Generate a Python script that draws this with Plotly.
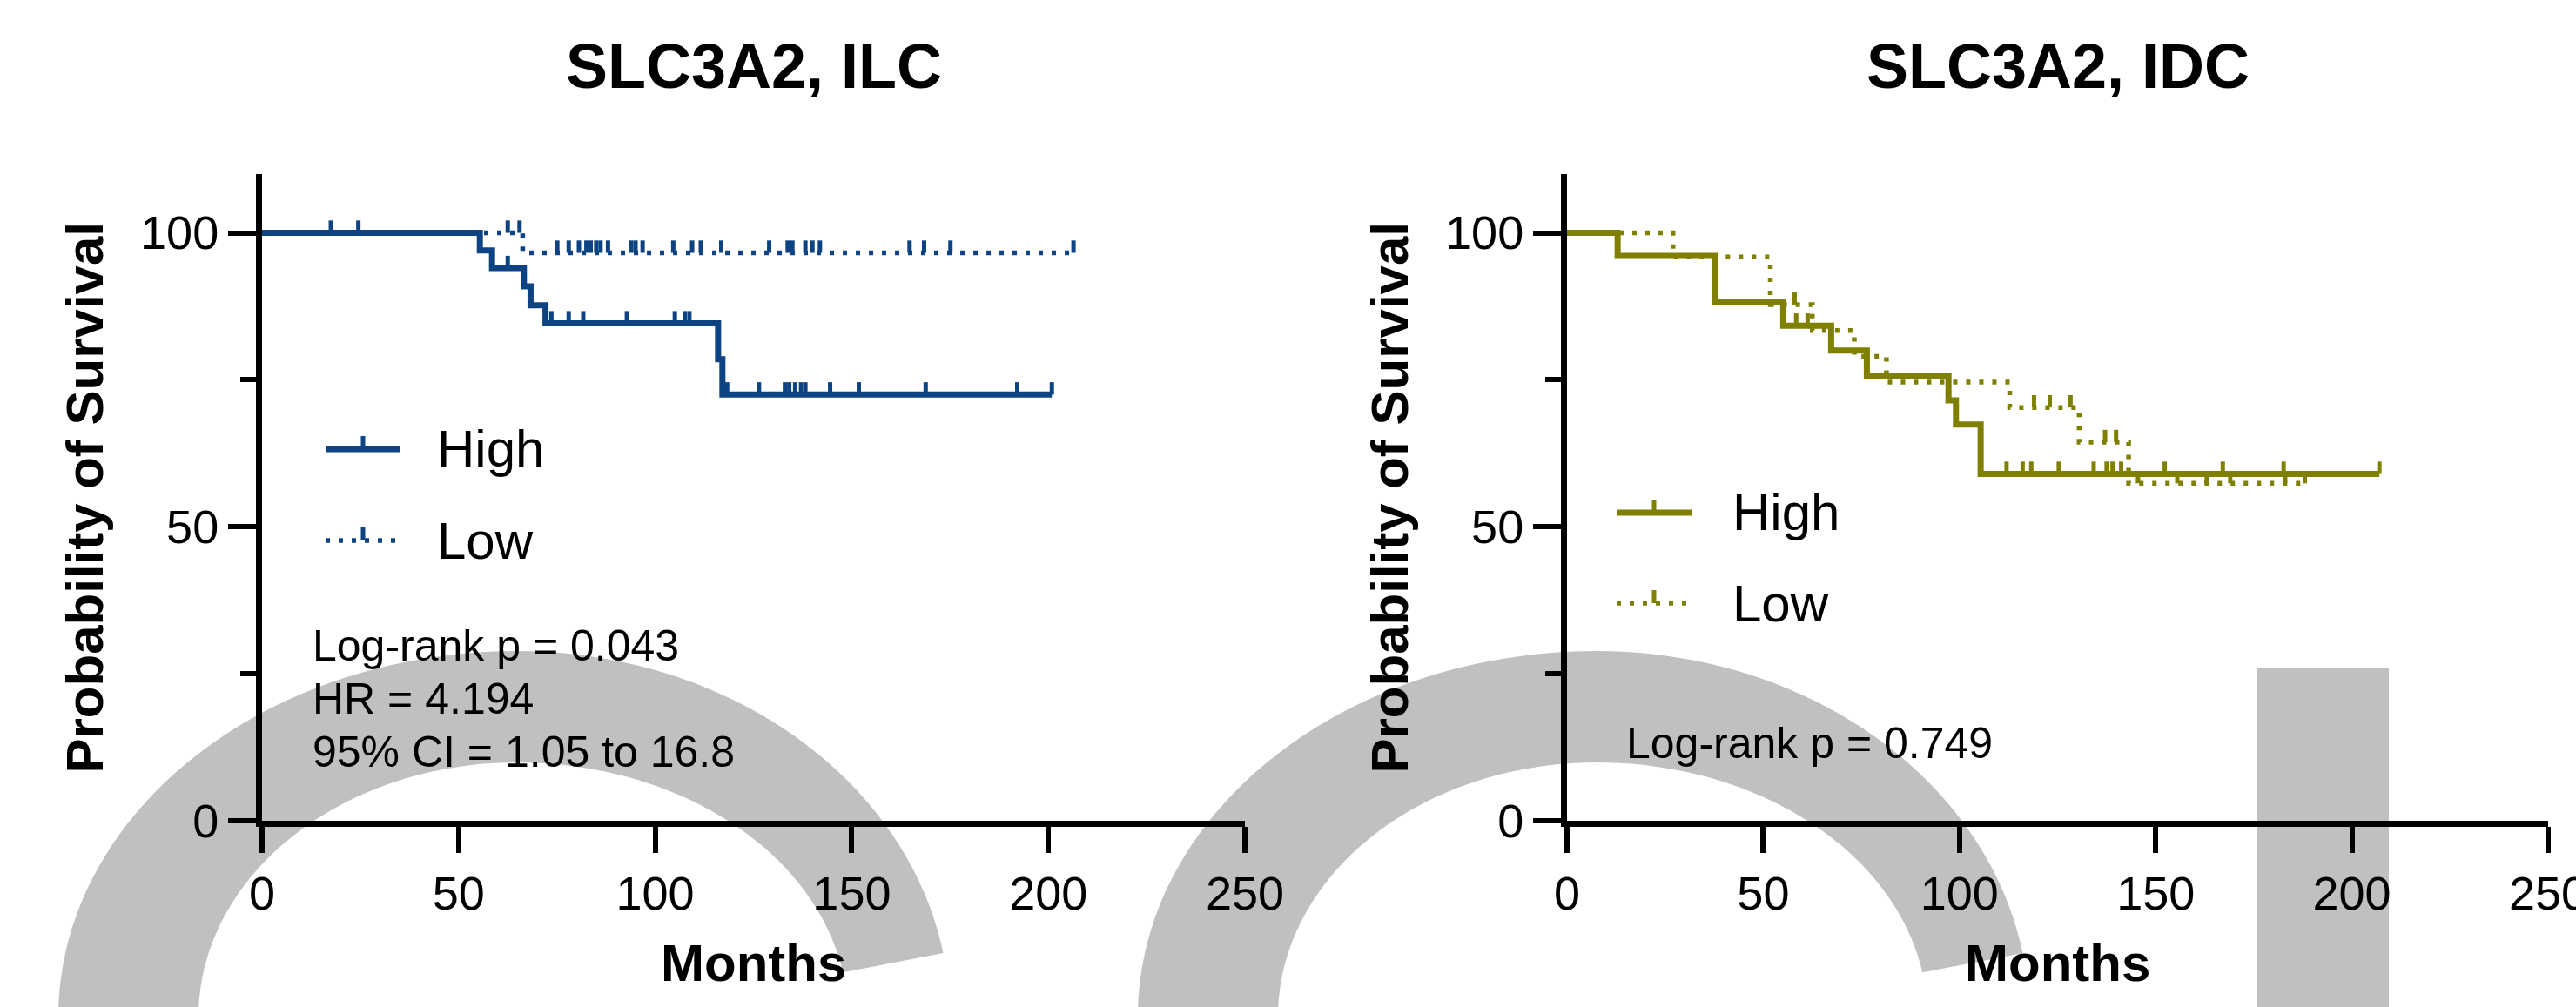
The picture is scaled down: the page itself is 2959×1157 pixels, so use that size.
import numpy as np
import plotly.graph_objects as go

W, H = 2959, 1157
FONT = "Liberation Sans, Arial, Helvetica, sans-serif"

# ---------------- data ----------------
month_ticks = [0, 50, 100, 150, 200, 250]
surv_ticks = [0, 50, 100]
surv_minor_ticks = [25, 75]

# ILC cohort
ilc_high_event_t = [55.4, 58.5, 66.6, 68.3, 72.1, 116.0, 117.1]
ilc_high_surv = [97.0, 94.0, 90.9, 87.7, 84.6, 78.5, 72.5]
ilc_high_cens_t = [17.5, 24.5, 62.5, 73.6, 78.0, 81.7, 92.8, 105.0, 107.5, 108.7,
                   118.3, 126.4, 133.0, 134.1, 135.6, 137.1, 138.2, 144.5, 151.8,
                   168.8, 192.1, 200.9]

ilc_low_event_t = [66.3]
ilc_low_surv = [96.6]
ilc_low_cens_t = [62.5, 65.5, 75.1, 78.0, 80.6, 82.5, 83.6, 85.0, 86.1, 88.0, 93.9,
                  95.0, 96.8, 104.6, 109.4, 111.6, 116.8, 129.0, 133.7, 134.9, 138.2,
                  140.0, 141.9, 164.7, 168.4, 175.1, 206.4]

# IDC cohort
idc_high_event_t = [12.9, 37.7, 55.1, 67.3, 76.4, 97.2, 99.1, 105.4]
idc_high_surv = [96.1, 88.3, 84.2, 80.0, 75.7, 71.5, 67.4, 59.0]
idc_high_cens_t = [58.4, 61.3, 112.0, 116.1, 118.3, 125.3, 134.2, 137.5, 139.0, 141.2,
                   152.3, 167.1, 182.6, 207.0]

idc_low_event_t = [27.0, 51.8, 62.5, 73.2, 81.4, 112.8, 130.5, 143.1]
idc_low_surv = [95.9, 87.8, 83.4, 79.0, 74.6, 70.3, 64.4, 57.4]
idc_low_cens_t = [58.0, 119.0, 123.0, 128.3, 137.1, 139.9, 145.5, 155.5, 163.0,
                  169.0, 183.0, 188.0]

titles = ["SLC3A2, ILC", "SLC3A2, IDC"]
group_names = ["High", "Low"]
x_title = "Months"
y_title = "Probability of Survival"
ilc_stats = ["Log-rank p = 0.043", "HR = 4.194", "95% CI = 1.05 to 16.8"]
idc_stats = ["Log-rank p = 0.749"]

# ---------------- style ----------------
BLUE = "#0D4382"
OLIVE = "#808000"
GRAY = "#C0C0C0"
LINE_W = 7
DOT_W = 5.5
DOT_DASH = "5px,10px"
TICK_UP = 2.1  # censor tick height, in % units


def px2paper(x, y):
    return x / W, 1 - y / H


def level_at(t, event_t, surv):
    lvl = 100.0
    for et, s in zip(event_t, surv):
        if et <= t:
            lvl = s
    return lvl


def km_steps(event_t, surv, cens_t):
    end = max(list(event_t) + list(cens_t))
    xs, ys = [0.0], [100.0]
    for et, s in zip(event_t, surv):
        xs.append(et)
        ys.append(s)
    xs.append(end)
    ys.append(level_at(end, event_t, surv))
    return xs, ys


def censor_marks(event_t, surv, cens_t):
    xs, ys = [], []
    for t in cens_t:
        lvl = level_at(t, event_t, surv)
        xs += [t, t, None]
        ys += [lvl, lvl + TICK_UP, None]
    return xs, ys


fig = go.Figure()

curves = [
    ("x", "y", ilc_high_event_t, ilc_high_surv, ilc_high_cens_t, BLUE, "solid"),
    ("x", "y", ilc_low_event_t, ilc_low_surv, ilc_low_cens_t, BLUE, "dot"),
    ("x2", "y2", idc_high_event_t, idc_high_surv, idc_high_cens_t, OLIVE, "solid"),
    ("x2", "y2", idc_low_event_t, idc_low_surv, idc_low_cens_t, OLIVE, "dot"),
]

for i, (xa, ya, et, sv, ct, col, sty) in enumerate(curves):
    name = group_names[i % 2]
    sx, sy = km_steps(et, sv, ct)
    lw = LINE_W if sty == "solid" else DOT_W
    dash = "solid" if sty == "solid" else DOT_DASH
    fig.add_trace(go.Scatter(
        x=sx, y=sy, mode="lines", line=dict(color=col, width=lw, dash=dash, shape="hv"),
        xaxis=xa, yaxis=ya, name=name, showlegend=False, hoverinfo="skip"))
    cx, cy = censor_marks(et, sv, ct)
    fig.add_trace(go.Scatter(
        x=cx, y=cy, mode="lines", line=dict(color=col, width=5),
        xaxis=xa, yaxis=ya, showlegend=False, hoverinfo="skip"))

# ---------------- layout ----------------
Y_TOP, Y_ZERO = 200, 943
LEFT_X = (301, 1430)
RIGHT_X = (1800, 2927)
ydom = [1 - Y_ZERO / H, 1 - Y_TOP / H]

axis_common = dict(
    showline=True, linewidth=7, linecolor="black", mirror=False,
    ticks="outside", tickwidth=6, tickcolor="black",
    showgrid=False, zeroline=False, automargin=False,
    ticklabeloverflow="allow",
    tickfont=dict(family=FONT, size=54, color="black"),
)

xaxis_cfg = dict(axis_common, range=[0, 250], tickvals=month_ticks, ticklen=30)
yaxis_cfg = dict(axis_common, range=[0, 110], tickvals=surv_ticks, ticklen=32,
                 minor=dict(tickvals=surv_minor_ticks, ticklen=18, tickwidth=6,
                            ticks="outside", tickcolor="black", showgrid=False))

fig.update_layout(
    template="none",
    width=W, height=H, autosize=False,
    margin=dict(l=0, r=0, t=0, b=0, pad=0),
    paper_bgcolor="white", plot_bgcolor="rgba(0,0,0,0)",
    font=dict(family=FONT, color="black"),
    showlegend=False,
    xaxis=dict(xaxis_cfg, domain=[LEFT_X[0] / W, LEFT_X[1] / W], anchor="y"),
    yaxis=dict(yaxis_cfg, domain=ydom, anchor="x"),
    xaxis2=dict(xaxis_cfg, domain=[RIGHT_X[0] / W, RIGHT_X[1] / W], anchor="y2"),
    yaxis2=dict(yaxis_cfg, domain=ydom, anchor="x2"),
)

annotations = []
shapes = []


def text_at(text, x, y, size, xanchor="center", angle=0):
    px, py = px2paper(x, y)
    annotations.append(dict(text=text, x=px, y=py, xref="paper", yref="paper",
                            xanchor=xanchor, yanchor="middle", showarrow=False,
                            textangle=angle,
                            font=dict(family=FONT, size=size, color="black")))


for title, (x0, x1) in zip(titles, [LEFT_X, RIGHT_X]):
    mid = (x0 + x1) / 2
    text_at(f"<b>{title}</b>", mid, 76, 72)
    text_at(f"<b>{x_title}</b>", mid, 1106, 60)
    text_at(f"<b>{y_title}</b>", x0 - 204, (Y_TOP + Y_ZERO) / 2, 60, angle=-90)

# statistics text
for lines, x0, y0 in [(ilc_stats, 357, 742), (idc_stats, 1866, 854)]:
    for k, line in enumerate(lines):
        text_at(line, x0, y0 + 61 * k, 50, xanchor="left")

# legend keys (drawn by hand so the sample line can be long)
legend_spots = [
    (BLUE, 374, 460, 500, [516, 621]),
    (OLIVE, 1857, 1943, 1988, [589, 693]),
]
for col, lx0, lx1, tx, rows in legend_spots:
    for name, ry in zip(group_names, rows):
        solid = name == "High"
        a = px2paper(lx0, ry)
        b = px2paper(lx1, ry)
        shapes.append(dict(type="line", xref="paper", yref="paper",
                           x0=a[0], y0=a[1], x1=b[0], y1=b[1],
                           line=dict(color=col, width=LINE_W if solid else DOT_W,
                                     dash="solid" if solid else DOT_DASH)))
        m0 = px2paper((lx0 + lx1) / 2, ry)
        m1 = px2paper((lx0 + lx1) / 2, ry - 15)
        shapes.append(dict(type="line", xref="paper", yref="paper",
                           x0=m0[0], y0=m0[1], x1=m1[0], y1=m1[1],
                           line=dict(color=col, width=5)))
        text_at(name, tx, ry, 60, xanchor="left")


# grey background glyphs: a thick arch, slightly narrower on its right side
def arch_path(shift):
    cx, cy = 594 + shift, 1168

    def ring(a_left, a_right, b, phis):
        pts = []
        for p in phis:
            c = np.cos(p)
            a = a_left if c < 0 else a_right
            pts.append((cx + a * c, cy - b * np.sin(p)))
        return pts

    phis_out = np.radians(np.linspace(188, 10, 90))
    phis_in = np.radians(np.linspace(10, 188, 90))
    pts = ring(527, 497, 420, phis_out) + ring(366, 380, 292, phis_in)
    coords = [px2paper(x, y) for x, y in pts]
    return "M " + " L ".join(f"{x:.5f},{y:.5f}" for x, y in coords) + " Z"


for shift in (0, 1240):
    shapes.append(dict(type="path", xref="paper", yref="paper", path=arch_path(shift),
                       fillcolor=GRAY, line=dict(width=0), layer="below"))
r0 = px2paper(2593, 1157)
r1 = px2paper(2744, 768)
shapes.append(dict(type="rect", xref="paper", yref="paper", x0=r0[0], y0=r0[1] - 0.02,
                   x1=r1[0], y1=r1[1], fillcolor=GRAY, line=dict(width=0), layer="below"))

fig.update_layout(annotations=annotations, shapes=shapes)
fig.write_html("out.html")
